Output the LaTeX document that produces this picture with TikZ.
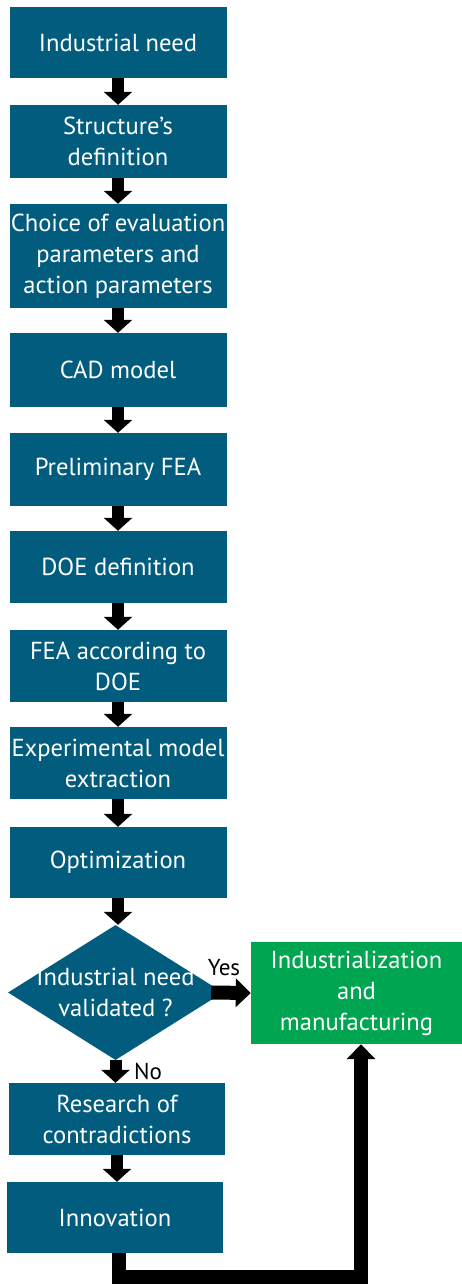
\documentclass[tikz,border=0pt]{standalone}
\usepackage{fontspec}
\setmainfont{PT Sans}
\usetikzlibrary{arrows.meta,shapes.geometric}
\definecolor{boxblue}{RGB}{2,92,126}
\definecolor{boxgreen}{RGB}{0,165,81}
\begin{document}
\begin{tikzpicture}[x=1pt,y=-1pt,
  stepbox/.style={rectangle, fill=boxblue, text=white, minimum width=217pt,
    inner sep=0pt, align=center, font=\fontsize{24.6}{31}\selectfont},
  greenbox/.style={stepbox, fill=boxgreen},
  lbl/.style={text=black, inner sep=0pt, font=\fontsize{23}{26}\selectfont},
  flow/.style={line width=12pt, draw=black, -{Triangle[width=28pt,length=13pt]}},
  bigflow/.style={line width=14pt, draw=black, line join=miter, -{Triangle[width=28pt,length=15pt]}},
]
\useasboundingbox (0,0) rectangle (462,1284);

\node[stepbox, minimum height=71pt]  (b1) at (118,42.5)  {Industrial need};
\node[stepbox, minimum height=73pt]  (b2) at (118,141.5) {Structure’s\\definition};
\node[stepbox, minimum height=104pt] (b3) at (118,256)   {Choice of evaluation\\parameters and\\action parameters};
\node[stepbox, minimum height=74pt]  (b4) at (118,370)   {CAD model};
\node[stepbox, minimum height=73pt]  (b5) at (118,469.5) {Preliminary FEA};
\node[stepbox, minimum height=72pt]  (b6) at (118,567)   {DOE definition};
\node[stepbox, minimum height=72pt]  (b7) at (118,666)   {FEA according to\\DOE};
\node[stepbox, minimum height=72pt]  (b8) at (118,763)   {Experimental model\\extraction};
\node[stepbox, minimum height=71pt]  (b9) at (118,862.5) {Optimization};

\node[diamond, fill=boxblue, minimum width=215pt, minimum height=135pt, inner sep=0pt] (dec) at (115.5,992.5) {};
\node[text=white, align=center, inner sep=0pt, font=\fontsize{24.6}{31}\selectfont] (dectext) at (dec.center) {Industrial need\\validated ?};

\node[greenbox, minimum width=211pt, minimum height=102pt] (ind) at (356.5,993) {Industrialization\\and\\manufacturing};

\node[stepbox, minimum width=216pt, minimum height=72pt] (b10) at (117,1119) {Research of\\contradictions};
\node[stepbox, minimum width=216pt, minimum height=71pt] (b11) at (115,1217.5) {Innovation};

\foreach \a/\b in {b1/b2,b2/b3,b3/b4,b4/b5,b5/b6,b6/b7,b7/b8,b8/b9}{
  \draw[flow] (\a.south) -- (\a.south |- \b.north);
}
\draw[flow] (b9.south) -- (b9.south |- dec.north);
\draw[flow] (dec.south) -- (dec.south |- b10.north);
\draw[flow] (b10.south) -- (b10.south |- b11.north);
\draw[bigflow] ([xshift=-12pt]dec.east) -- (ind.west);

\node[lbl] (yes) at (224,968) {Yes};
\node[lbl] (no) at (148,1071) {No};

\coordinate (loop) at (361,1277);
\draw[bigflow] ([xshift=4pt]b11.south) |- (loop) -- (loop |- ind.south);
\end{tikzpicture}
\end{document}
